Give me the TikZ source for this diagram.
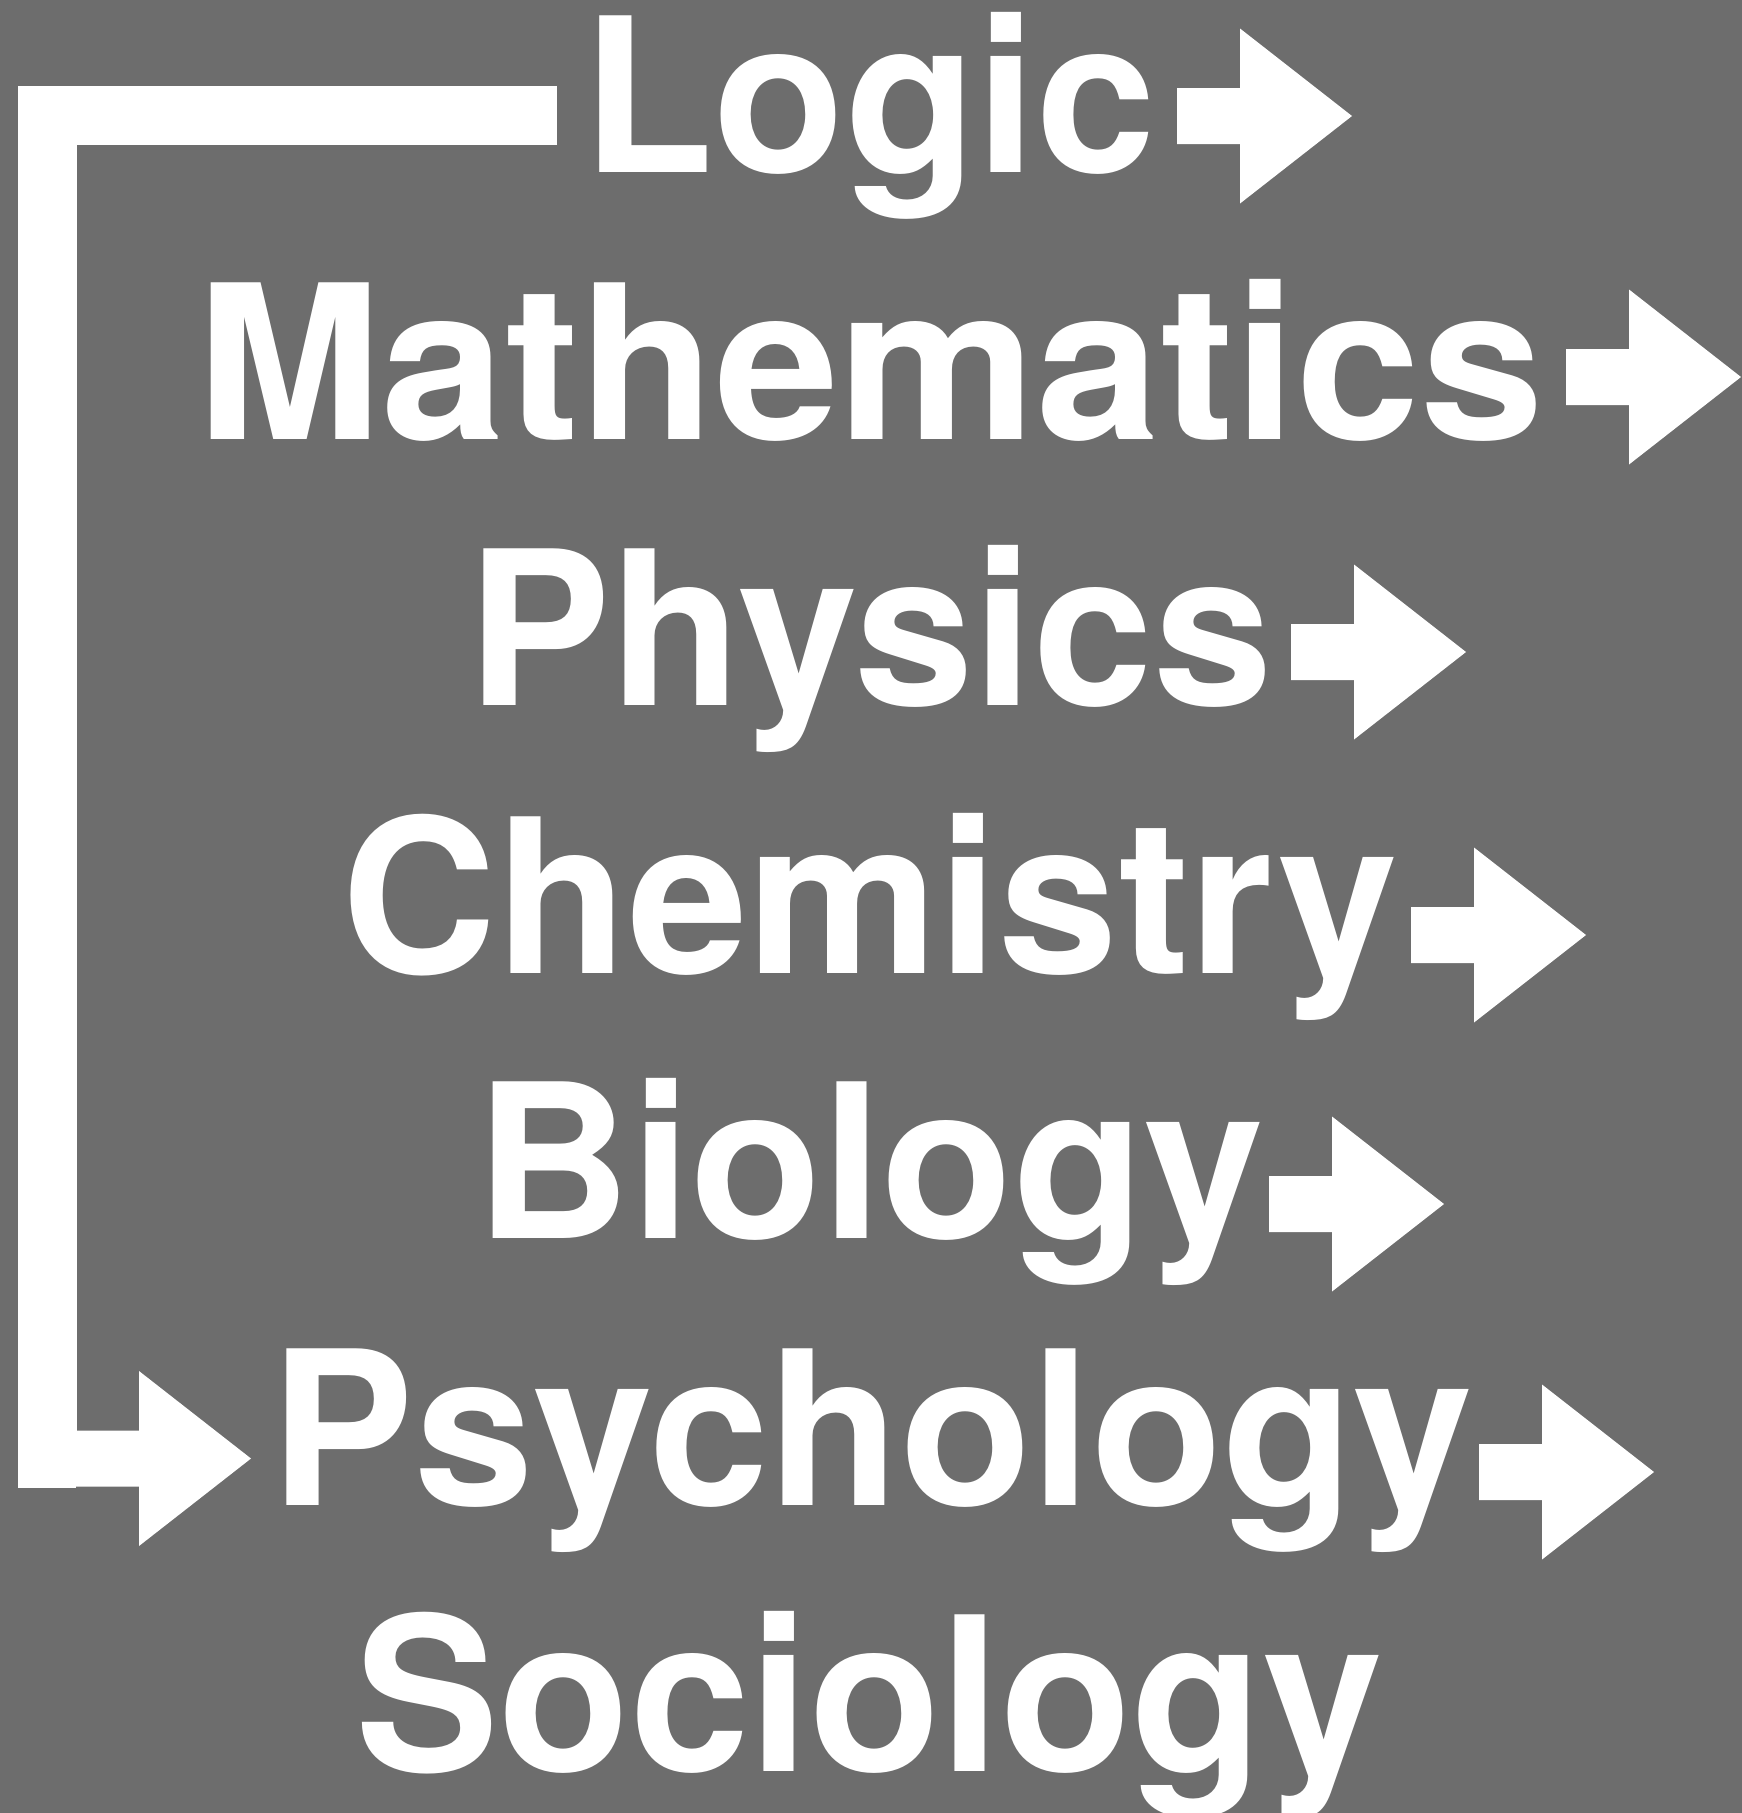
\documentclass[tikz,border=0pt]{standalone}
\usepackage{fontspec}
\setmainfont{TeX Gyre Heros}
\definecolor{bg}{RGB}{109,109,109}
\begin{document}
\begin{tikzpicture}[x=1pt,y=-1pt,
  lbl/.style={anchor=base, inner sep=0pt, text=white, font=\fontsize{215}{215}\selectfont\bfseries},
  bar/.style={draw=white, line width=59pt, line join=miter, line cap=butt},
  rarrow/.pic={\fill[white] (0,-28) -- (63,-28) -- (63,-87.5) -- (175,0) -- (63,87.5) -- (63,28) -- (0,28) -- cycle;}
  ]
\fill[bg] (0,0) rectangle (1742,1813);
\useasboundingbox (0,0) rectangle (1742,1813);
\node[lbl] (logic) at (869,172) {Logic};
\node[lbl] (math) at (870,439) {\addfontfeature{FakeStretch=1.035}Mathematics};
\node[lbl] (phys) at (870,705) {Physics};
\node[lbl] (chem) at (870,973) {Chemistry};
\node[lbl] (bio) at (870,1238) {Biology};
\node[lbl] (psych) at (872,1505) {Psychology};
\node[lbl] (soc) at (869,1771) {Sociology};
\pic at (1177,116) {rarrow};
\pic at (1566,377) {rarrow};
\pic at (1291,652) {rarrow};
\pic at (1411,935) {rarrow};
\pic at (1269,1204) {rarrow};
\pic at (1479,1472) {rarrow};
\coordinate (bstart) at (557,115.5);
\coordinate (bend) at (76,1458.5);
\draw[bar] (bstart) -| (47,1458.5) -- (bend);
\pic at (bend) {rarrow};
\end{tikzpicture}
\end{document}
